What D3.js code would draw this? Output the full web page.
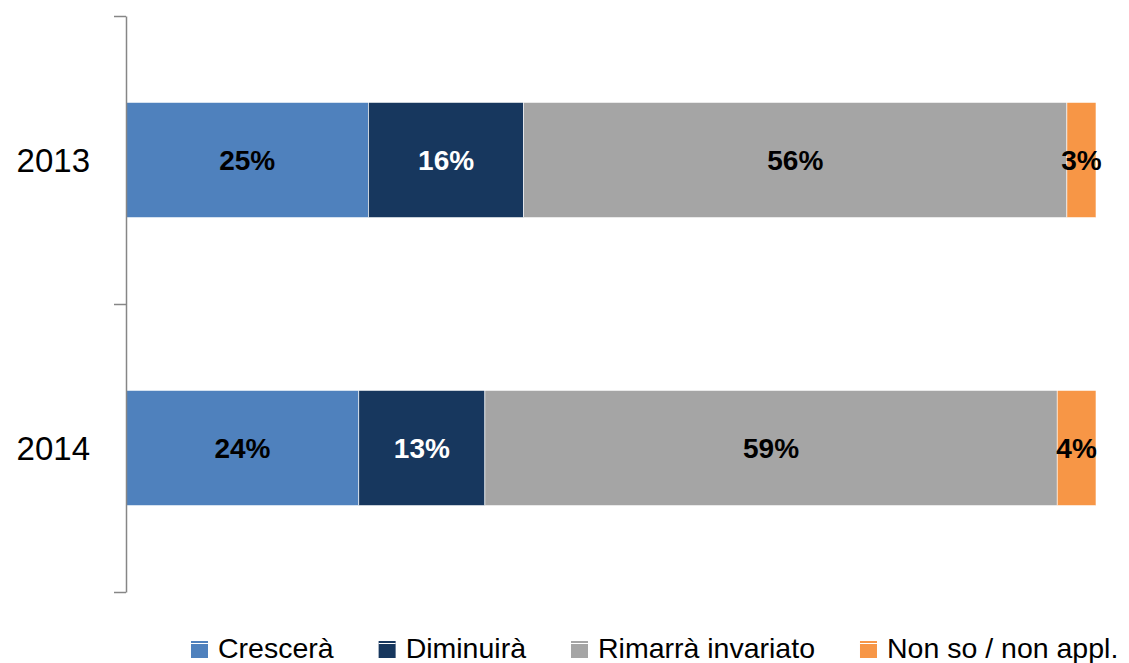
<!DOCTYPE html>
<html>
<head>
<meta charset="utf-8">
<script src="https://cdn.jsdelivr.net/npm/d3@7"></script>
<style>
  html, body { margin: 0; padding: 0; background: #fff; }
  svg { display: block; font-family: "Liberation Sans", Arial, sans-serif; }
</style>
</head>
<body>
<svg id="chart" width="1129" height="663"></svg>
<script>
const categories = ["2013", "2014"];
const seriesNames = ["Crescerà", "Diminuirà", "Rimarrà invariato", "Non so / non appl."];
const crescera = [25, 24];
const diminuira = [16, 13];
const rimarra = [56, 59];
const nonSo = [3, 4];
const colors = ["#4F81BD", "#17375E", "#A5A5A5", "#F79646"];
const labelColors = ["#000", "#fff", "#000", "#000"];

const series = [crescera, diminuira, rimarra, nonSo];

const svg = d3.select("#chart");

const y = d3.scaleBand().domain(categories).range([16, 592]).paddingInner(0.6).paddingOuter(0.3);
const x = d3.scaleLinear().domain([0, 100]).range([126, 1096]);

const rows = categories.map((c, i) => {
  const r = { cat: c };
  seriesNames.forEach((s, j) => r[s] = series[j][i]);
  return r;
});
const stacked = d3.stack().keys(seriesNames)(rows);

const g = svg.append("g");
stacked.forEach((layer, j) => {
  const lg = g.append("g");
  lg.selectAll("rect").data(layer).join("rect")
    .attr("x", d => x(d[0]))
    .attr("y", d => y(d.data.cat))
    .attr("width", d => x(d[1]) - x(d[0]))
    .attr("height", y.bandwidth())
    .attr("fill", colors[j])
    .attr("stroke", "#fff")
    .attr("stroke-width", 0.6);
  lg.selectAll("text").data(layer).join("text")
    .attr("x", d => (x(d[0]) + x(d[1])) / 2)
    .attr("y", d => y(d.data.cat) + y.bandwidth() / 2)
    .attr("dy", "0.36em")
    .attr("text-anchor", "middle")
    .attr("font-size", 28)
    .attr("font-weight", "bold")
    .attr("fill", labelColors[j])
    .text(d => (d[1] - d[0]) + "%");
});

const yb = d3.scaleLinear().domain([0, categories.length]).range([16, 592]);
const axis = svg.append("g")
  .attr("transform", "translate(126,0)")
  .call(d3.axisLeft(yb).tickValues(d3.range(categories.length + 1)).tickFormat("").tickSize(12).tickSizeOuter(0));
axis.selectAll("path, line").attr("stroke", "#868686").attr("stroke-width", 1.5);

svg.append("g").selectAll("text").data(categories).join("text")
  .attr("x", 90)
  .attr("y", d => y(d) + y.bandwidth() / 2)
  .attr("dy", "0.36em")
  .attr("text-anchor", "end")
  .attr("font-size", 33)
  .attr("fill", "#000")
  .text(d => d);

const legend = svg.append("g");
let lx = 191;
seriesNames.forEach((s, j) => {
  const item = legend.append("g");
  item.append("rect").attr("x", lx).attr("y", 641).attr("width", 17).attr("height", 17).attr("fill", colors[j]);
  item.append("line").attr("x1", lx).attr("x2", lx + 17).attr("y1", 643.5).attr("y2", 643.5).attr("stroke", "#fff").attr("stroke-width", 1);
  const t = item.append("text").attr("x", lx + 27).attr("y", 658).attr("font-size", 28.5).attr("fill", "#000").text(s);
  const w = t.node().getComputedTextLength();
  lx += 27 + w + 45;
});
</script>
</body>
</html>
